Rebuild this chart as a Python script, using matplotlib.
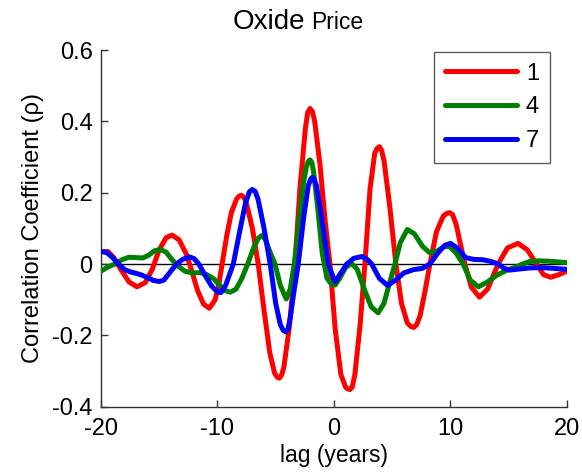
import matplotlib
matplotlib.use('Agg')
import matplotlib.pyplot as plt

plt.rcParams['font.family'] = ['Liberation Sans', 'DejaVu Sans']

# lag (years) and correlation values
lag_1 = [-20.0, -19.4, -18.9, -18.3, -17.6, -16.9, -16.2, -15.6, -15.0, -14.4,
         -13.9, -13.3, -12.7, -12.2, -11.7, -11.2, -10.7, -10.2, -9.9, -9.6,
         -9.2, -8.8, -8.35, -8.15, -7.95, -7.75, -7.55, -7.0, -6.5, -6.0,
         -5.5, -5.1, -4.9, -4.7, -4.5, -4.3, -3.8, -3.35, -2.9, -2.45,
         -2.25, -2.05, -1.85, -1.65, -1.2, -0.75, -0.34, 0.1, 0.6, 1.0,
         1.17, 1.37, 1.57, 1.8, 2.25, 2.66, 3.1, 3.5, 3.7, 3.9,
         4.1, 4.3, 4.8, 5.32, 5.8, 6.3, 6.6, 6.85, 7.1, 7.4,
         7.8, 8.24, 8.8, 9.4, 9.7, 9.95, 10.2, 10.5, 11.24, 11.8,
         12.5, 13.2, 14.1, 14.9, 15.8, 16.6, 17.4, 18.0, 18.6, 19.3,
         20.0]
rho_1 = [0.035, 0.035, 0.018, -0.015, -0.05, -0.064, -0.052, -0.015, 0.04, 0.074,
         0.081, 0.068, 0.03, -0.02, -0.075, -0.112, -0.124, -0.10, -0.06, 0.0,
         0.08, 0.145, 0.183, 0.19, 0.193, 0.188, 0.175, 0.10, 0.0, -0.13,
         -0.25, -0.305, -0.316, -0.32, -0.312, -0.29, -0.17, 0.0, 0.22, 0.38,
         0.425, 0.436, 0.428, 0.40, 0.28, 0.12, 0.0, -0.18, -0.31, -0.345,
         -0.35, -0.352, -0.345, -0.31, -0.17, 0.0, 0.21, 0.31, 0.324, 0.329,
         0.318, 0.29, 0.16, 0.0, -0.11, -0.165, -0.175, -0.178, -0.17, -0.145,
         -0.08, 0.0, 0.09, 0.135, 0.142, 0.144, 0.138, 0.11, 0.0, -0.065,
         -0.093, -0.07, 0.0, 0.045, 0.058, 0.04, 0.0, -0.03, -0.037, -0.03,
         -0.02]

lag_4 = [-20.0, -19.4, -18.8, -18.2, -17.6, -17.0, -16.4, -15.9, -15.4, -14.9,
         -14.4, -13.9, -13.4, -12.8, -12.2, -11.5, -10.9, -10.3, -9.8, -9.3,
         -8.9, -8.4, -7.9, -7.4, -6.9, -6.5, -6.2, -5.9, -5.5, -5.06,
         -4.6, -4.1, -3.75, -3.4, -3.0, -2.6, -2.35, -2.2, -2.05, -1.9,
         -1.75, -1.4, -1.0, -0.6, -0.2, 0.1, 0.5, 1.0, 1.5, 2.0,
         2.6, 3.2, 3.8, 4.3, 4.8, 5.24, 5.7, 6.3, 6.9, 7.6,
         8.2, 8.8, 9.4, 9.9, 10.5, 11.1, 11.7, 12.4, 13.2, 14.0,
         14.8, 15.5, 16.2, 16.8, 17.6, 18.4, 19.2, 20.0]
rho_4 = [-0.02, -0.008, 0.0, 0.012, 0.019, 0.018, 0.017, 0.025, 0.037, 0.041,
         0.033, 0.012, -0.005, -0.02, -0.025, -0.024, -0.03, -0.042, -0.06, -0.075,
         -0.079, -0.07, -0.04, 0.0, 0.045, 0.072, 0.08, 0.07, 0.035, 0.0,
         -0.06, -0.098, -0.07, 0.0, 0.12, 0.23, 0.275, 0.288, 0.292, 0.285,
         0.26, 0.16, 0.03, -0.04, -0.057, -0.059, -0.04, -0.01, 0.002, -0.015,
         -0.07, -0.12, -0.137, -0.11, -0.05, 0.0, 0.06, 0.097, 0.085, 0.05,
         0.032, 0.035, 0.048, 0.05, 0.03, 0.0, -0.045, -0.064, -0.05, -0.031,
         -0.018, -0.01, 0.0, 0.007, 0.009, 0.008, 0.006, 0.004]

lag_7 = [-20.0, -19.5, -19.0, -18.5, -18.0, -17.5, -17.0, -16.5, -16.0, -15.5,
         -15.0, -14.6, -14.0, -13.5, -13.0, -12.4, -12.0, -11.6, -11.0, -10.5,
         -10.0, -9.7, -9.3, -8.64, -8.1, -7.6, -7.25, -7.0, -6.75, -6.5,
         -6.0, -5.47, -5.0, -4.6, -4.35, -4.15, -3.95, -3.75, -3.4, -3.06,
         -2.6, -2.2, -2.0, -1.85, -1.7, -1.5, -1.1, -0.49, 0.1, 0.6,
         1.1, 1.7, 2.4, 2.9, 3.24, 3.9, 4.6, 5.3, 6.0, 6.8,
         7.6, 8.24, 8.9, 9.5, 10.0, 10.6, 11.3, 12.0, 12.8, 13.5,
         14.1, 14.6, 15.1, 15.9, 16.8, 17.8, 18.8, 20.0]
rho_7 = [0.035, 0.032, 0.018, 0.0, -0.015, -0.022, -0.026, -0.031, -0.038, -0.046,
         -0.049, -0.045, -0.02, 0.0, 0.013, 0.02, 0.015, 0.0, -0.035, -0.062,
         -0.078, -0.08, -0.06, 0.0, 0.09, 0.17, 0.203, 0.209, 0.203, 0.18,
         0.10, 0.0, -0.11, -0.17, -0.186, -0.19, -0.184, -0.15, -0.07, 0.0,
         0.13, 0.22, 0.238, 0.243, 0.238, 0.22, 0.14, 0.0, -0.05, -0.025,
         0.0, 0.016, 0.021, 0.012, 0.0, -0.04, -0.06, -0.045, -0.025, -0.016,
         -0.012, 0.0, 0.03, 0.052, 0.058, 0.045, 0.018, 0.013, 0.012, 0.007,
         0.0, -0.012, -0.017, -0.014, -0.011, -0.01, -0.012, -0.015]

series_labels = ['1', '4', '7']
x_ticks = [-20, -10, 0, 10, 20]
y_ticks = [-0.4, -0.2, 0, 0.2, 0.4, 0.6]
y_ticklabels = ['-0.4', '-0.2', '0', '0.2', '0.4', '0.6']

fig = plt.figure(figsize=(5.82, 4.75), dpi=100)
ax = fig.add_axes([0.1735, 0.1438, 0.8005, 0.7509])

ax.axhline(0, color='black', lw=1.0, zorder=1)
line_kw = dict(lw=3.6, solid_joinstyle='round', solid_capstyle='round', zorder=3)
ax.plot(lag_1, rho_1, color='#ff0000', label=series_labels[0], **line_kw)
ax.plot(lag_4, rho_4, color='#008000', label=series_labels[1], **line_kw)
ax.plot(lag_7, rho_7, color='#0000ff', label=series_labels[2], **line_kw)

ax.set_xlim(-20, 20)
ax.set_ylim(-0.4, 0.6)
ax.set_xticks(x_ticks)
ax.set_xticklabels([str(t) for t in x_ticks])
ax.set_yticks(y_ticks)
ax.set_yticklabels(y_ticklabels)
ax.tick_params(direction='in', length=5, width=1, labelsize=17, color='#333333')
ax.tick_params(axis='x', pad=8)
ax.tick_params(axis='y', pad=6)
for side in ['top', 'right']:
    ax.spines[side].set_visible(False)
for side in ['left', 'bottom']:
    ax.spines[side].set_color('#333333')
    ax.spines[side].set_linewidth(1)

ax.set_xlabel('lag (years)', fontsize=16.5, labelpad=3)
ax.set_ylabel('Correlation Coefficient (\u03c1)', fontsize=17, labelpad=6)

fig.text(0.4003, 0.939, 'Oxide', fontsize=20, va='baseline', ha='left')
fig.text(0.534, 0.939, 'Price', fontsize=16.5, va='baseline', ha='left')

leg = ax.legend(loc='upper right', fontsize=17, frameon=True, fancybox=False,
                handlelength=3.05, borderpad=0.45, labelspacing=0.5,
                handletextpad=0.4, borderaxespad=0,
                bbox_to_anchor=(0.9635, 0.9944))
leg.get_frame().set_edgecolor('#333333')
leg.get_frame().set_linewidth(1)

fig.savefig('out.png', dpi=100)
